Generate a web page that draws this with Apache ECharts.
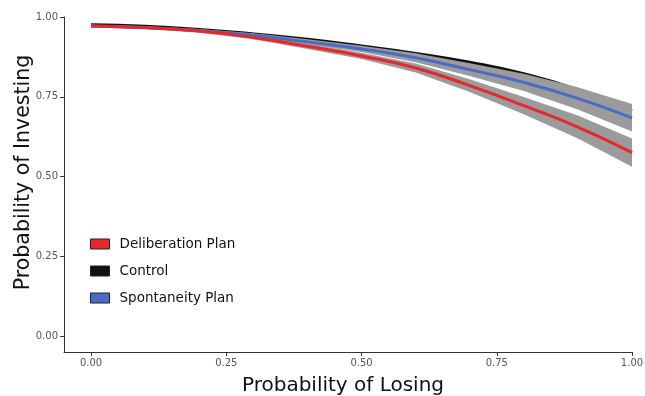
<!DOCTYPE html>
<html>
<head>
<meta charset="utf-8">
<script src="https://cdn.jsdelivr.net/npm/echarts@6/dist/echarts.min.js"></script>
<style>html,body{margin:0;padding:0;background:#fff}#c{width:645px;height:396px}</style>
</head>
<body>
<div id="c"></div>
<script>
var xVals = [0, 0.1, 0.2, 0.3, 0.4, 0.5, 0.6, 0.7, 0.8, 0.9, 1.0];
var tickVals = [0, 0.25, 0.5, 0.75, 1.0];
var deliberation = [0.972, 0.966, 0.956, 0.936, 0.908, 0.878, 0.840, 0.785, 0.722, 0.655, 0.575];
var deliberationHalf = [0.004, 0.004, 0.005, 0.006, 0.008, 0.010, 0.014, 0.020, 0.027, 0.036, 0.044];
var control = [0.976, 0.971, 0.961, 0.947, 0.930, 0.909, 0.886, 0.858, 0.822, 0.772, 0.705];
var spontaneity = [0.972, 0.967, 0.957, 0.943, 0.922, 0.900, 0.872, 0.835, 0.795, 0.745, 0.684];
var spontaneityHalf = [0.004, 0.004, 0.005, 0.006, 0.008, 0.010, 0.014, 0.020, 0.027, 0.035, 0.043];

function pts(arr){ return xVals.map(function(x,i){return [x, arr[i]];}); }
function bandData(arr, half){ return xVals.map(function(x,i){return [x, arr[i]-half[i], arr[i]+half[i]];}); }

var chart = echarts.init(document.getElementById('c'));
var font = 'DejaVu Sans';
function band(name, arr, half){
  var d = bandData(arr, half);
  return {
    type:'custom', name:name, data:d, silent:true, z:2,
    encode:{x:0, y:[1,2]},
    renderItem:function(params, api){
      if (params.dataIndex !== 0) return null;
      var up = [], lo = [];
      for (var i=0;i<d.length;i++){
        up.push(api.coord([d[i][0], d[i][2]]));
        lo.push(api.coord([d[i][0], d[i][1]]));
      }
      var poly = up.concat(lo.reverse());
      return {type:'polygon', shape:{points:poly}, style:{fill:'#9b9b9b', stroke:'none'}};
    }
  };
}
var series = [];
series.push({type:'line', name:'Control', data:pts(control), smooth:true, symbol:'none',
  lineStyle:{color:'#111111', width:3}, itemStyle:{color:'#111111'}, z:1});
series.push(band('sp_band', spontaneity, spontaneityHalf));
series.push(band('de_band', deliberation, deliberationHalf));
series.push({type:'line', name:'Spontaneity Plan', data:pts(spontaneity), smooth:true, symbol:'none',
  lineStyle:{color:'#4a6cc6', width:3}, itemStyle:{color:'#4a6cc6'}, z:3});
series.push({type:'line', name:'Deliberation Plan', data:pts(deliberation), smooth:true, symbol:'none',
  lineStyle:{color:'#e8262b', width:3}, itemStyle:{color:'#e8262b'}, z:3});

chart.setOption({
  animation:false,
  backgroundColor:'#fff',
  grid:{left:64, top:17, right:13, bottom:44, containLabel:false, outerBoundsMode:'none'},
  legend:{
    data:['Deliberation Plan','Control','Spontaneity Plan'],
    orient:'vertical', left:85, top:232, itemGap:13,
    icon:'rect', itemWidth:19, itemHeight:10,
    itemStyle:{borderColor:'#222', borderWidth:1},
    textStyle:{fontFamily:font, fontSize:13.5, color:'#111', padding:[0,0,0,5]}
  },
  xAxis:{
    type:'value', min:-0.05, max:1.0,
    name:'Probability of Losing', nameLocation:'middle', nameGap:24, nameMoveOverlap:false,
    nameTextStyle:{fontFamily:font, fontSize:20, color:'#111', padding:[0,10,0,0]},
    axisLine:{show:true, onZero:false, lineStyle:{color:'#333', width:1}},
    axisTick:{show:true, length:4, lineStyle:{color:'#333'}, customValues:tickVals},
    axisLabel:{fontFamily:font, fontSize:10, color:'#555', margin:6, customValues:tickVals,
      formatter:function(v){return v.toFixed(2);}},
    splitLine:{show:false}
  },
  yAxis:{
    type:'value', min:-0.05, max:1.0,
    name:'Probability of Investing', nameLocation:'middle', nameGap:30, nameMoveOverlap:false,
    nameTextStyle:{fontFamily:font, fontSize:20.5, color:'#111', padding:[0,0,0,24]},
    axisLine:{show:true, onZero:false, lineStyle:{color:'#333', width:1}},
    axisTick:{show:true, length:4, lineStyle:{color:'#333'}, customValues:tickVals},
    axisLabel:{fontFamily:font, fontSize:10, color:'#555', margin:6, customValues:tickVals,
      formatter:function(v){return v.toFixed(2);}},
    splitLine:{show:false}
  },
  series:series
});
</script>
</body>
</html>
